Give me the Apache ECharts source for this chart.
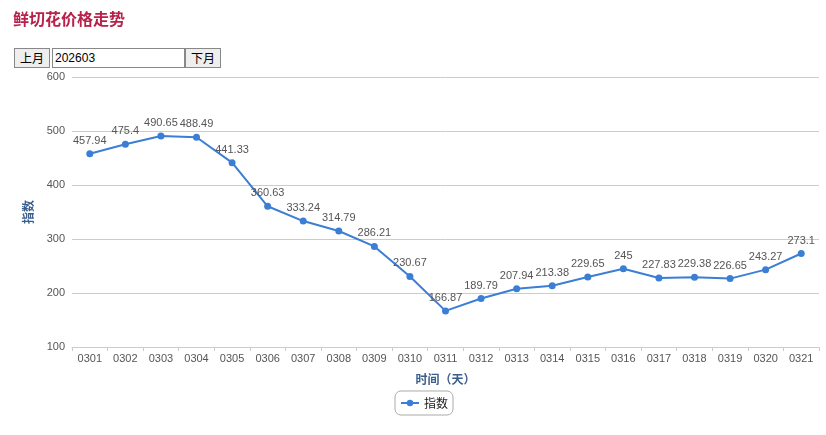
<!DOCTYPE html>
<html><head><meta charset="utf-8">
<script src="https://cdn.jsdelivr.net/npm/echarts@6/dist/echarts.min.js"></script>
<style>
html,body{margin:0;padding:0;background:#fff;width:826px;height:435px;overflow:hidden;font-family:"Noto Sans CJK SC",sans-serif;}
#chart{position:absolute;left:0;top:0;width:826px;height:435px;}
#ctrl{position:absolute;left:14px;top:48px;height:20px;display:flex;z-index:2;}
#ctrl button{height:20px;padding:0 5px;font-size:12px;border:1px solid #888;background:#eee;font-family:"Noto Sans CJK SC",sans-serif;line-height:16px;margin:0;}
#ctrl input{height:20px;width:133px;box-sizing:border-box;border:1px solid #888;font-size:12px;padding:0 2px;margin:0 0 0 2px;font-family:"Liberation Sans",sans-serif;}
</style></head>
<body>
<div id="chart"></div>
<div id="ctrl"><button>上月</button><input value="202603"><button>下月</button></div>
<script>
var titleText = "鲜切花价格走势";
var categories = ["0301","0302","0303","0304","0305","0306","0307","0308","0309","0310","0311","0312","0313","0314","0315","0316","0317","0318","0319","0320","0321"];
var seriesName = "指数";
var values = [457.94,475.4,490.65,488.49,441.33,360.63,333.24,314.79,286.21,230.67,166.87,189.79,207.94,213.38,229.65,245,227.83,229.38,226.65,243.27,273.1];
var yTicks = {min:100, max:600, interval:100};

var chart = echarts.init(document.getElementById('chart'));
chart.setOption({
  animation:false,
  title:{text:titleText,left:8,top:6,textStyle:{color:'#b8214a',fontSize:16,fontWeight:'bold',fontFamily:'Noto Sans CJK SC'}},
  grid:{left:72,right:7,top:77,bottom:88},
  legend:{bottom:20,left:395,data:[seriesName],borderColor:'#aaa',borderWidth:1,borderRadius:6,padding:[6,5],itemWidth:18,itemHeight:8,itemGap:5,
    textStyle:{color:'#222',fontSize:12,fontFamily:'Noto Sans CJK SC'}},
  xAxis:{type:'category',data:categories,boundaryGap:true,
    name:'时间（天）',nameLocation:'middle',nameGap:26,nameTextStyle:{color:'#3a5f8f',fontSize:12,fontWeight:'bold',fontFamily:'Noto Sans CJK SC'},
    axisLine:{lineStyle:{color:'#ccc'}},axisTick:{show:true,length:4,lineStyle:{color:'#ccc'}},
    axisLabel:{interval:0,color:'#555',fontSize:11,fontFamily:'Liberation Sans',margin:6}},
  yAxis:{type:'value',min:yTicks.min,max:yTicks.max,interval:yTicks.interval,
    name:'指数',nameLocation:'middle',nameGap:38,nameTextStyle:{color:'#3a5f8f',fontSize:12,fontWeight:'bold',fontFamily:'Noto Sans CJK SC'},
    axisLine:{show:false},axisTick:{show:false},
    splitLine:{lineStyle:{color:'#ccc'}},
    axisLabel:{color:'#555',fontSize:11,fontFamily:'Liberation Sans',margin:7}},
  series:[{name:seriesName,type:'line',data:values,symbol:'circle',symbolSize:7,
    itemStyle:{color:'#3a7fd5'},lineStyle:{color:'#3a7fd5',width:2},
    label:{show:true,position:'top',color:'#555',fontSize:11,fontFamily:'Liberation Sans',distance:4}}]
});
</script>
</body></html>
